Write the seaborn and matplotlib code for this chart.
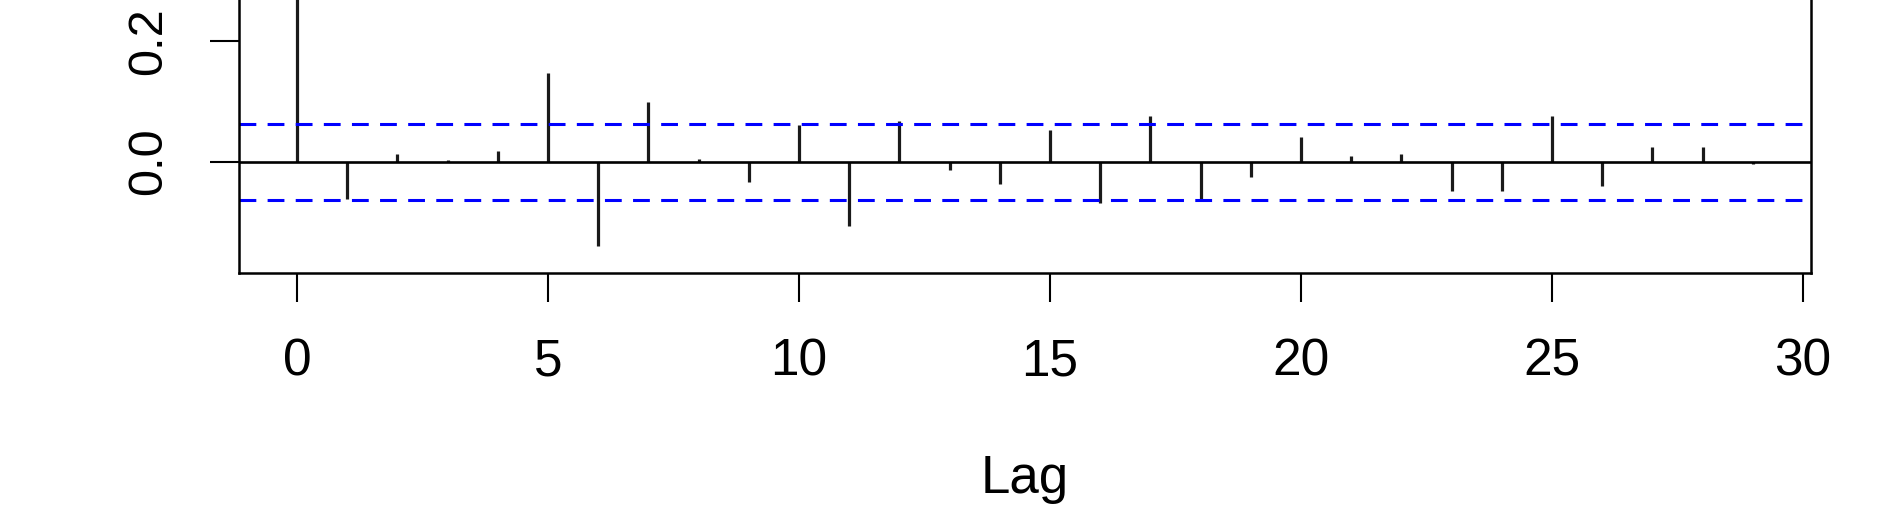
import numpy as np
import matplotlib
matplotlib.use("Agg")
import matplotlib.pyplot as plt
import seaborn as sns

lags = list(range(30))
acf_vals = [1.0, -0.062, 0.013, 0.003, 0.017, 0.146, -0.139, 0.099, 0.004, -0.033,
            0.061, -0.107, 0.067, -0.014, -0.037, 0.052, -0.068, 0.076, -0.063, -0.025,
            0.041, 0.009, 0.013, -0.049, -0.049, 0.076, -0.041, 0.025, 0.025, -0.004]
conf_bound = 0.063
x_ticks = [0, 5, 10, 15, 20, 25, 30]
y_ticks = [0.0, 0.2]   # higher ticks fall outside the cropped picture

sns.set_theme(style="ticks")
plt.rcParams['font.family'] = ['Liberation Sans', 'DejaVu Sans']

W, H = 1882, 521
fig = plt.figure(figsize=(W / 100, H / 100), dpi=100)

# R-style limits: data range stretched by 4%
ylo = min(min(acf_vals), -conf_bound)
yhi = max(max(acf_vals), conf_bound)
yr = yhi - ylo
ylim = (ylo - 0.04 * yr, yhi + 0.04 * yr)
xlim = (-0.04 * 29, 29 + 0.04 * 29)

# axes placed in pixels; top of the plot runs off the figure (cropped like the original)
left_px, right_px = 238.8, 1811.0
bottom_px = 273.3
px_per_unit = 605.0
top_px = bottom_px - (ylim[1] - ylim[0]) * px_per_unit
ax = fig.add_axes([left_px / W, (H - bottom_px) / H,
                   (right_px - left_px) / W, (bottom_px - top_px) / H])

ax.vlines(lags, 0, acf_vals, color="#1a1a1a", linewidth=2.3)
ax.axhline(0, color="black", linewidth=1.9)
for b in (conf_bound, -conf_bound):
    ax.axhline(b, color="#0000ff", linewidth=2.2, linestyle=(0, (5.5, 3.7)))

ax.set_xlim(xlim)
ax.set_ylim(ylim)
ax.set_xticks(x_ticks)
ax.set_xticklabels([str(t) for t in x_ticks], fontsize=37)
ax.set_yticks(y_ticks)
ax.set_yticklabels([f"{t:.1f}" for t in y_ticks], rotation=90, va="center", fontsize=35)
ax.set_xlabel("Lag", fontsize=38, color="black", labelpad=49)

for s in ax.spines.values():
    s.set_color("black")
    s.set_linewidth(1.8)
ax.tick_params(axis="both", direction="out", length=21, width=1.5, color="black",
               labelcolor="black")
ax.tick_params(axis="x", pad=25)
ax.tick_params(axis="y", pad=28)

fig.savefig("out.png", dpi=100)
